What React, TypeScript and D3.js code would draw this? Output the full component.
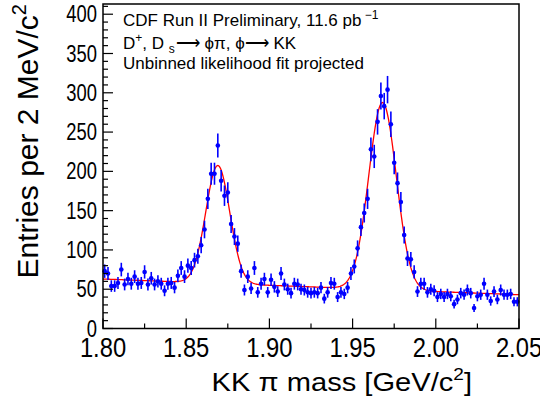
import React from "react";
import * as d3 from "d3";

// ---------- data ----------
const massRange = [1.8, 2.05];
const binWidth = 0.002;
const counts = [
  73, 70, 54, 54, 58, 75, 56, 63, 57, 66,
  57, 58, 72, 56, 64, 56, 60, 57, 48, 57,
  58, 52, 67, 77, 66, 80, 77, 87, 92, 106,
  126, 165, 197, 197, 233, 188, 169, 173, 133, 117,
  108, 73, 49, 66, 51, 77, 46, 57, 63, 46,
  62, 53, 47, 70, 56, 50, 45, 57, 56, 50,
  49, 46, 45, 46, 45, 52, 38, 46, 58, 57,
  40, 46, 44, 52, 70, 79, 102, 129, 147, 165,
  228, 219, 263, 296, 283, 304, 260, 211, 185, 161,
  119, 89, 88, 72, 47, 57, 57, 46, 50, 48,
  40, 44, 40, 44, 41, 31, 37, 45, 43, 49,
  45, 26, 41, 43, 57, 43, 35, 47, 37, 49,
  43, 43, 44, 34, 34,
];
const xTickValues = [1.8, 1.85, 1.9, 1.95, 2.0, 2.05];
const xTickLabels = ["1.80", "1.85", "1.90", "1.95", "2.00", "2.05"];
const yTickValues = [0, 50, 100, 150, 200, 250, 300, 350, 400];
const yTickLabels = ["0", "50", "100", "150", "200", "250", "300", "350", "400"];
// fit model parameters (linear background + two gaussians)
const fitBackground = [63, -80]; // value at 1.80, slope per GeV/c^2
const fitMeans = [1.869, 1.968];
const fitSigmas = [0.0072, 0.0083];
const fitAmplitudes = [150, 238];

const W = 540;
const H = 400;
const X0 = 103;
const X1 = 519;
const Y0 = 328.5;
const Y1 = 4;
const FONT = "'Liberation Sans', Arial, Helvetica, sans-serif";
const BLUE = "#0000ff";

function fitValue(m: number) {
  let v = fitBackground[0] + fitBackground[1] * (m - massRange[0]);
  for (let i = 0; i < fitMeans.length; i++) {
    const d = (m - fitMeans[i]) / fitSigmas[i];
    v += fitAmplitudes[i] * Math.exp(-0.5 * d * d);
  }
  return v;
}

export default function App() {
  const x = d3.scaleLinear().domain(massRange).range([X0, X1]);
  const y = d3.scaleLinear().domain([0, 413]).range([Y0, Y1]);

  const bins = counts.map((c, i) => ({
    lo: massRange[0] + i * binWidth,
    hi: massRange[0] + (i + 1) * binWidth,
    mid: massRange[0] + (i + 0.5) * binWidth,
    c,
    e: Math.sqrt(c),
  }));

  const fitMasses = d3.range(massRange[0], massRange[1] + 1e-9, 0.0005);
  const fitLine = d3
    .line<number>()
    .x((m) => x(m))
    .y((m) => y(fitValue(m)))
    .curve(d3.curveLinear);

  const xMinor = d3.range(1.8, 2.0501, 0.025);
  const yMinor = d3.range(0, 411, 10);

  return (
    <svg
      width={W}
      height={H}
      style={{ position: "absolute", left: 0, top: 0, background: "#fff" }}
      fontFamily={FONT}
    >
      <rect x={0} y={0} width={W} height={H} fill="#fff" />
      {/* fit curve */}
      <path d={fitLine(fitMasses) || ""} fill="none" stroke="#ff0000" strokeWidth={1.3} />
      {/* data points */}
      <g>
        {bins.map((b, i) => (
          <g key={i}>
            <line x1={x(b.mid)} x2={x(b.mid)} y1={y(b.c - b.e)} y2={y(b.c + b.e)} stroke={BLUE} strokeWidth={1.6} />
            <line x1={x(b.lo)} x2={x(b.hi)} y1={y(b.c)} y2={y(b.c)} stroke={BLUE} strokeWidth={1.6} />
            <circle cx={x(b.mid)} cy={y(b.c)} r={2.3} fill={BLUE} />
          </g>
        ))}
      </g>
      {/* frame */}
      <rect x={X0} y={Y1} width={X1 - X0} height={Y0 - Y1} fill="none" stroke="#000" strokeWidth={1.5} />
      {/* x ticks */}
      {xMinor.map((v, i) => {
        const major = Math.abs(v * 20 - Math.round(v * 20)) < 1e-6;
        return (
          <line key={"xt" + i} x1={x(v)} x2={x(v)} y1={Y0} y2={Y0 - (major ? 10 : 5)} stroke="#000" strokeWidth={1.2} />
        );
      })}
      {/* y ticks */}
      {yMinor.map((v, i) => {
        const major = v % 50 === 0;
        return (
          <line key={"yt" + i} x1={X0} x2={X0 + (major ? 10 : 5)} y1={y(v)} y2={y(v)} stroke="#000" strokeWidth={1.2} />
        );
      })}
      {/* x tick labels */}
      {xTickValues.map((v, i) => (
        <text
          key={"xl" + i}
          transform={`translate(${x(v)},357) scale(0.88,1)`}
          textAnchor="middle"
          fontSize={27}
          fill="#000"
        >
          {xTickLabels[i]}
        </text>
      ))}
      {/* y tick labels */}
      {yTickValues.map((v, i) => (
        <text
          key={"yl" + i}
          transform={`translate(97,${y(v) + 8}) scale(0.8,1)`}
          textAnchor="end"
          fontSize={23}
          fill="#000"
        >
          {yTickLabels[i]}
        </text>
      ))}
      {/* axis titles */}
      <text transform="translate(472,391) scale(1.12,1)" textAnchor="end" fontSize={26} fill="#000">
        KK π mass [GeV/c<tspan fontSize={17} dy={-11}>2</tspan>
        <tspan dy={11}>]</tspan>
      </text>
      <text transform="translate(38,4) rotate(-90)" textAnchor="end" fontSize={30} fill="#000">
        Entries per 2 MeV/c<tspan fontSize={20} dy={-12}>2</tspan>
      </text>
      {/* annotation */}
      <g fontSize={17} fill="#000">
        <text transform="translate(123,26)">
          CDF Run II Preliminary, 11.6 pb<tspan fontSize={12} dy={-7}> −1</tspan>
        </text>
        <text transform="translate(123,49)">
          D<tspan fontSize={12} dy={-7}>+</tspan>
          <tspan dy={7}>, D </tspan>
          <tspan fontSize={12} dy={4}>s</tspan>
          <tspan dy={-4} dx={1}>⟶ ϕπ, ϕ⟶ KK</tspan>
        </text>
        <text transform="translate(123,69)">Unbinned likelihood fit projected</text>
      </g>
    </svg>
  );
}
